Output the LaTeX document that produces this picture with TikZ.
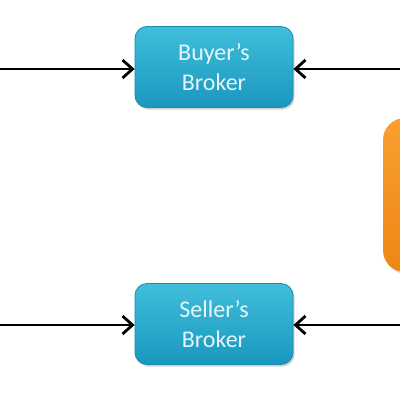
\documentclass[tikz,border=0pt]{standalone}
\usepackage{fontspec}
\setmainfont{Carlito}
\usetikzlibrary{arrows.meta,shadows}
\definecolor{boxtop}{HTML}{40BEDB}
\definecolor{boxbot}{HTML}{1A97BE}
\definecolor{boxedge}{HTML}{1A8CAE}
\definecolor{txt}{HTML}{E4F6FB}
\definecolor{ortop}{HTML}{F8A030}
\definecolor{orbot}{HTML}{EF8614}
\tikzset{
  broker/.style={draw=boxedge, line width=0.8pt, rounded corners=12pt, top color=boxtop, bottom color=boxbot,
    minimum width=158pt, minimum height=81pt, align=center, text=txt, font=\fontsize{24}{30}\selectfont,
    drop shadow={shadow xshift=1.5pt, shadow yshift=-2pt, opacity=0.35}},
  conn/.style={line width=2.8pt, -{Straight Barb[length=10pt,width=18pt,line width=2.8pt]}}
}
\begin{document}
\begin{tikzpicture}[x=1pt,y=-1pt]
\useasboundingbox (0,0) rectangle (400,400);
\fill[white] (0,0) rectangle (400,400);
\begin{scope}
\clip (0,0) rectangle (400,400);
\shade[top color=ortop, bottom color=orbot, rounded corners=22pt, drop shadow={shadow xshift=1.5pt, shadow yshift=-2pt, opacity=0.3}] (383,118) rectangle (460,272);
\end{scope}
\node[broker] (buyer) at (214,67) {Buyer’s\\Broker};
\node[broker] (seller) at (214,324) {Seller’s\\Broker};
\coordinate (bl) at (0,69);
\coordinate (br) at (400,69);
\coordinate (sl) at (0,325);
\coordinate (sr) at (400,325);
\draw[conn] (bl) -- (buyer.west |- bl);
\draw[conn] (br) -- (buyer.east |- br);
\draw[conn] (sl) -- (seller.west |- sl);
\draw[conn] (sr) -- (seller.east |- sr);
\end{tikzpicture}
\end{document}
